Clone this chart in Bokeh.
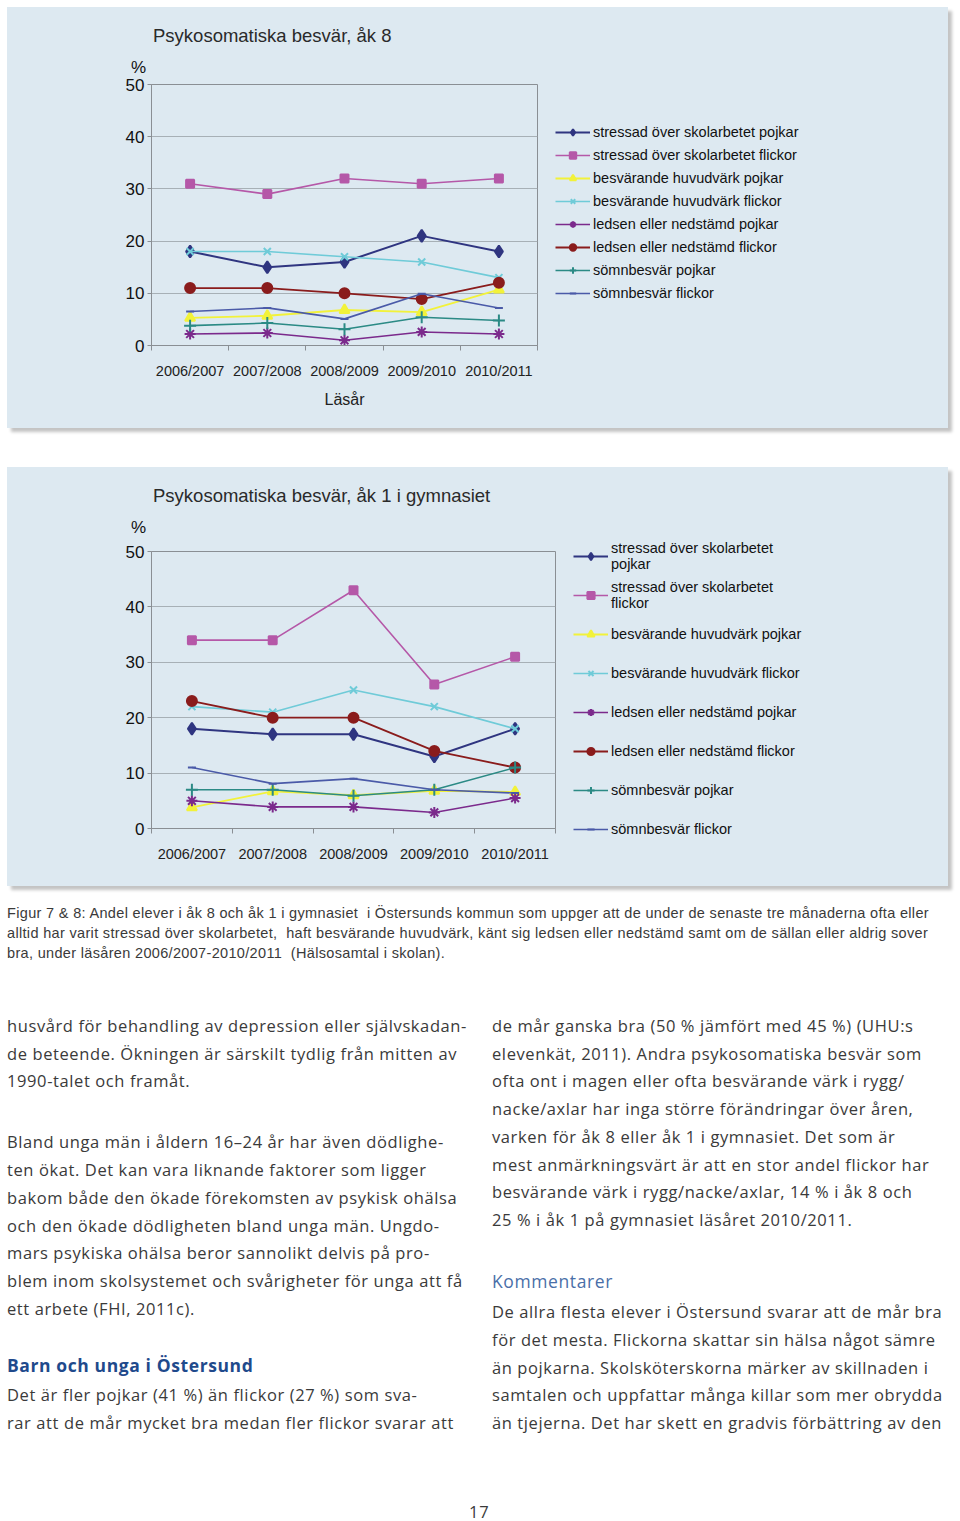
import html
from bokeh.plotting import figure
from bokeh.models import Range1d, FixedTicker, Legend, LegendItem, Spacer, Div
from bokeh.layouts import column, row
from bokeh.embed import file_html
from bokeh.resources import INLINE

# ---------------- data ----------------
years = ["2006/2007", "2007/2008", "2008/2009", "2009/2010", "2010/2011"]
series_names = [
    "stressad över skolarbetet pojkar",
    "stressad över skolarbetet flickor",
    "besvärande huvudvärk pojkar",
    "besvärande huvudvärk flickor",
    "ledsen eller nedstämd pojkar",
    "ledsen eller nedstämd flickor",
    "sömnbesvär pojkar",
    "sömnbesvär flickor",
]
legend_names_gym = [
    "stressad över skolarbetet\npojkar",
    "stressad över skolarbetet\nflickor",
    "besvärande huvudvärk pojkar",
    "besvärande huvudvärk flickor",
    "ledsen eller nedstämd pojkar",
    "ledsen eller nedstämd flickor",
    "sömnbesvär pojkar",
    "sömnbesvär flickor",
]
# åk 8
ak8_stress_pojkar = [18, 15, 16, 21, 18]
ak8_stress_flickor = [31, 29, 32, 31, 32]
ak8_huvud_pojkar = [5.3, 5.7, 6.8, 6.4, 10.7]
ak8_huvud_flickor = [18, 18, 17, 16, 13]
ak8_ledsen_pojkar = [2.2, 2.4, 1.0, 2.6, 2.2]
ak8_ledsen_flickor = [11, 11, 10, 8.9, 12]
ak8_somn_pojkar = [3.8, 4.3, 3.1, 5.4, 4.8]
ak8_somn_flickor = [6.5, 7.2, 5.1, 9.9, 7.2]
# åk 1 i gymnasiet
gy_stress_pojkar = [18, 17, 17, 13, 18]
gy_stress_flickor = [34, 34, 43, 26, 31]
gy_huvud_pojkar = [3.8, 6.7, 6.0, 6.8, 6.6]
gy_huvud_flickor = [22, 21, 25, 22, 18]
gy_ledsen_pojkar = [5.0, 3.9, 3.9, 2.9, 5.5]
gy_ledsen_flickor = [23, 20, 20, 14, 11]
gy_somn_pojkar = [7, 7, 5.9, 7, 11]
gy_somn_flickor = [11, 8.1, 9.0, 7.0, 6.4]

y_ticks = [0, 10, 20, 30, 40, 50]

title_ak8 = "Psykosomatiska besvär, åk 8"
title_gym = "Psykosomatiska besvär, åk 1 i gymnasiet"
y_unit = "%"
x_title = "Läsår"

# ---------------- styles ----------------
PANEL = "#dde9f1"
AXIS = "#8a8f94"
GRID = "#a7b0b6"
CHART_FONT = "Liberation Sans"
PANEL_W = 941
Z = (0, 0, 0, 0)
styles_series = [
    dict(color="#2f3580", marker="diamond", size=12, lw=2.0),
    dict(color="#b558a8", marker="square", size=8, lw=1.6),
    dict(color="#f2f23a", marker="triangle", size=10, lw=1.8),
    dict(color="#6fcbd8", marker="x", size=10, lw=1.6),
    dict(color="#7b2a8c", marker="asterisk", size=11, lw=1.6),
    dict(color="#8a1c1c", marker="circle", size=10, lw=1.8),
    dict(color="#2b8a85", marker="cross", size=12, lw=1.6),
    dict(color="#4a5aa8", marker="dash", size=8, lw=1.6),
]


def span(txt, left, cy, size, lh=None, font=CHART_FONT, color="#222", extra=""):
    lh = lh or round(size * 1.25)
    top = cy - lh / 2
    return (f'<span style="position:absolute;left:{left}px;top:{top:.1f}px;'
            f'white-space:pre;font-family:\'{font}\',sans-serif;font-size:{size}px;'
            f'line-height:{lh}px;color:{color};{extra}">{html.escape(txt)}</span>')


def header_div(title, height, title_cy, pct_cy):
    inner = span(title, 146, title_cy, 18.5, color="#2a2a2a")
    inner += span(y_unit, 124, pct_cy, 17, color="#111")
    return Div(text=f'<div style="position:relative;width:{PANEL_W}px;height:{height}px">{inner}</div>',
               width=PANEL_W, height=height, margin=Z,
               styles={"background-color": PANEL})


def make_chart(data, width, height, top, bottom, xlabel=None):
    p = figure(width=width, height=height, x_range=Range1d(0, len(years)),
               y_range=Range1d(0, 50), output_backend="svg", toolbar_location=None,
               min_border_left=144, min_border_right=18,
               min_border_top=top, min_border_bottom=bottom, margin=Z)
    p.background_fill_color = PANEL
    p.border_fill_color = PANEL
    p.outline_line_color = AXIS
    p.outline_line_width = 1
    p.xgrid.visible = False
    p.ygrid.grid_line_color = GRID
    p.ygrid.grid_line_width = 1

    p.yaxis.ticker = FixedTicker(ticks=y_ticks)
    p.yaxis.axis_line_color = AXIS
    p.yaxis.major_tick_line_color = AXIS
    p.yaxis.major_tick_out = 4
    p.yaxis.major_tick_in = 0
    p.yaxis.minor_tick_line_color = None
    p.yaxis.major_label_standoff = 3
    p.yaxis.major_label_text_font = CHART_FONT
    p.yaxis.major_label_text_font_size = "17px"
    p.yaxis.major_label_text_color = "#111111"

    xs = [i + 0.5 for i in range(len(years))]
    p.xaxis.ticker = FixedTicker(ticks=xs, minor_ticks=list(range(len(years) + 1)))
    p.xaxis.major_label_overrides = {x: y for x, y in zip(xs, years)}
    p.xaxis.axis_line_color = AXIS
    p.xaxis.major_tick_line_color = None
    p.xaxis.major_tick_out = 0
    p.xaxis.major_tick_in = 0
    p.xaxis.minor_tick_line_color = AXIS
    p.xaxis.minor_tick_out = 5
    p.xaxis.minor_tick_in = 0
    p.xaxis.major_label_standoff = 12
    p.xaxis.major_label_text_font = CHART_FONT
    p.xaxis.major_label_text_font_size = "14.5px"
    p.xaxis.major_label_text_color = "#222222"
    if xlabel:
        p.xaxis.axis_label = xlabel
        p.xaxis.axis_label_text_font = CHART_FONT
        p.xaxis.axis_label_text_font_size = "16px"
        p.xaxis.axis_label_text_font_style = "normal"
        p.xaxis.axis_label_text_color = "#222222"
        p.xaxis.axis_label_standoff = 9

    for vals, st in zip(data, styles_series):
        p.line(xs, vals, line_color=st["color"], line_width=st["lw"])
        p.scatter(xs, vals, marker=st["marker"], size=st["size"],
                  fill_color=st["color"], line_color=st["color"], line_width=2)
    return p


def make_legend_fig(data, labels, width, height, legend_top, spacing, item_h, glyph_h):
    # the legend lives in its own figure; the same series are plotted there but
    # scrolled out of its (empty) view, so only the legend samples are visible
    lf = figure(width=width, height=height, x_range=Range1d(100, 101), y_range=Range1d(100, 101),
                x_axis_type=None, y_axis_type=None, output_backend="svg",
                toolbar_location=None, min_border=0, margin=Z)
    lf.grid.visible = False
    lf.outline_line_color = None
    lf.background_fill_color = PANEL
    lf.border_fill_color = PANEL
    xs = [i + 0.5 for i in range(len(years))]
    items = []
    for vals, name, st in zip(data, labels, styles_series):
        lr = lf.line(xs, vals, line_color=st["color"], line_width=st["lw"])
        sr = lf.scatter(xs, vals, marker=st["marker"], size=st["size"],
                        fill_color=st["color"], line_color=st["color"], line_width=2)
        items.append(LegendItem(label=name, renderers=[lr, sr]))
    n = len(labels)
    leg_h = n * item_h + (n - 1) * spacing
    legend = Legend(items=items, location=(0, height - legend_top - leg_h),
                    orientation="vertical", padding=0, margin=0, spacing=spacing,
                    glyph_width=35, glyph_height=glyph_h, label_height=item_h,
                    label_standoff=3, border_line_color=None, background_fill_alpha=0,
                    label_text_font=CHART_FONT, label_text_font_size="14.5px",
                    label_text_color="#111111", label_text_line_height=1.1)
    lf.add_layout(legend, "center")
    return lf


ak8_data = [ak8_stress_pojkar, ak8_stress_flickor, ak8_huvud_pojkar, ak8_huvud_flickor,
            ak8_ledsen_pojkar, ak8_ledsen_flickor, ak8_somn_pojkar, ak8_somn_flickor]
gy_data = [gy_stress_pojkar, gy_stress_flickor, gy_huvud_pojkar, gy_huvud_flickor,
           gy_ledsen_pojkar, gy_ledsen_flickor, gy_somn_pojkar, gy_somn_flickor]

PANEL_STYLE = {"box-shadow": "4px 4px 3px #c4c4c4", "background-color": PANEL}

# panel 1: page y 7..428 ; header 66px, chart row 355px (frame 84..345, x 151..537)
h1 = header_div(title_ak8, 66, 28, 60)
p1 = make_chart(ak8_data, 548, 355, 11, 83, xlabel=x_title)
l1 = make_legend_fig(ak8_data, series_names, PANEL_W - 548, 355, 51, 7, 16, 16)
panel1 = column(h1, row(column(p1, margin=Z), column(l1, margin=Z), spacing=0, margin=Z),
                spacing=0, margin=Z, styles=PANEL_STYLE)

# panel 2: page y 467..886 ; header 70px, chart row 349px (frame 551..828, x 151..555)
h2 = header_div(title_gym, 70, 28, 60)
p2 = make_chart(gy_data, 566, 349, 14, 58)
l2 = make_legend_fig(gy_data, legend_names_gym, PANEL_W - 566, 349, 3, 7, 32, 18)
panel2 = column(h2, row(column(p2, margin=Z), column(l2, margin=Z), spacing=0, margin=Z),
                spacing=0, margin=Z, styles=PANEL_STYLE)

# ---------------- text below the charts ----------------
caption_lines = [
    "Figur 7 & 8: Andel elever i åk 8 och åk 1 i gymnasiet  i Östersunds kommun som uppger att de under de senaste tre månaderna ofta eller",
    "alltid har varit stressad över skolarbetet,  haft besvärande huvudvärk, känt sig ledsen eller nedstämd samt om de sällan eller aldrig sover",
    "bra, under läsåren 2006/2007-2010/2011  (Hälsosamtal i skolan).",
]
caption_y = [913, 933, 953]
left_lines = [
    "husvård för behandling av depression eller självskadan-",
    "de beteende. Ökningen är särskilt tydlig från mitten av",
    "1990-talet och framåt.",
    "Bland unga män i åldern 16–24 år har även dödlighe-",
    "ten ökat. Det kan vara liknande faktorer som ligger",
    "bakom både den ökade förekomsten av psykisk ohälsa",
    "och den ökade dödligheten bland unga män. Ungdo-",
    "mars psykiska ohälsa beror sannolikt delvis på pro-",
    "blem inom skolsystemet och svårigheter för unga att få",
    "ett arbete (FHI, 2011c).",
    "Det är fler pojkar (41 %) än flickor (27 %) som sva-",
    "rar att de mår mycket bra medan fler flickor svarar att",
]
left_y = [1026, 1054, 1081, 1142, 1170, 1198, 1226, 1253, 1281, 1309, 1395, 1423]
left_heading = "Barn och unga i Östersund"
left_heading_y = 1365
right_lines = [
    "de mår ganska bra (50 % jämfört med 45 %) (UHU:s",
    "elevenkät, 2011). Andra psykosomatiska besvär som",
    "ofta ont i magen eller ofta besvärande värk i rygg/",
    "nacke/axlar har inga större förändringar över åren,",
    "varken för åk 8 eller åk 1 i gymnasiet. Det som är",
    "mest anmärkningsvärt är att en stor andel flickor har",
    "besvärande värk i rygg/nacke/axlar, 14 % i åk 8 och",
    "25 % i åk 1 på gymnasiet läsåret 2010/2011.",
    "De allra flesta elever i Östersund svarar att de mår bra",
    "för det mesta. Flickorna skattar sin hälsa något sämre",
    "än pojkarna. Skolsköterskorna märker av skillnaden i",
    "samtalen och uppfattar många killar som mer obrydda",
    "än tjejerna. Det har skett en gradvis förbättring av den",
]
right_y = [1026, 1054, 1081, 1109, 1137, 1165, 1192, 1220, 1312, 1340, 1368, 1395, 1423]
right_heading = "Kommentarer"
right_heading_y = 1281
page_number = "17"

TOP = 886
TW, TH = 953, 628
BODY = "Open Sans"
body_extra = "letter-spacing:0.6px;"
parts = []
for s, yy in zip(caption_lines, caption_y):
    parts.append(span(s, 0, yy - TOP, 14.5, lh=18, font=CHART_FONT, color="#3a3a3a",
                      extra="letter-spacing:0.33px;"))
for s, yy in zip(left_lines, left_y):
    parts.append(span(s, 0, yy - TOP, 16.5, lh=22, font=BODY, color="#3a3a3a", extra=body_extra))
for s, yy in zip(right_lines, right_y):
    parts.append(span(s, 485, yy - TOP, 16.5, lh=22, font=BODY, color="#3a3a3a", extra=body_extra))
parts.append(span(left_heading, 0, left_heading_y - TOP, 17.5, lh=22, font=BODY, color="#1f4a8c",
                  extra="font-weight:bold;letter-spacing:0.6px;"))
parts.append(span(right_heading, 485, right_heading_y - TOP, 17.5, lh=22, font=BODY,
                  color="#4a6fa8", extra="letter-spacing:0.6px;"))
parts.append(span(page_number, 462, 1512 - TOP, 16.5, lh=20, font=BODY, color="#3a3a3a",
                  extra="letter-spacing:0.7px;"))
text_div = Div(text=f'<div style="position:relative;width:{TW}px;height:{TH}px">{"".join(parts)}</div>',
               width=TW, height=TH, margin=Z)

content = column(Spacer(height=7, margin=Z), panel1,
                 Spacer(height=39, margin=Z), panel2, text_div,
                 spacing=0, margin=Z)
layout = row(Spacer(width=7, margin=Z), content, spacing=0, margin=Z)
open("out.html", "w").write(file_html(layout, INLINE))
